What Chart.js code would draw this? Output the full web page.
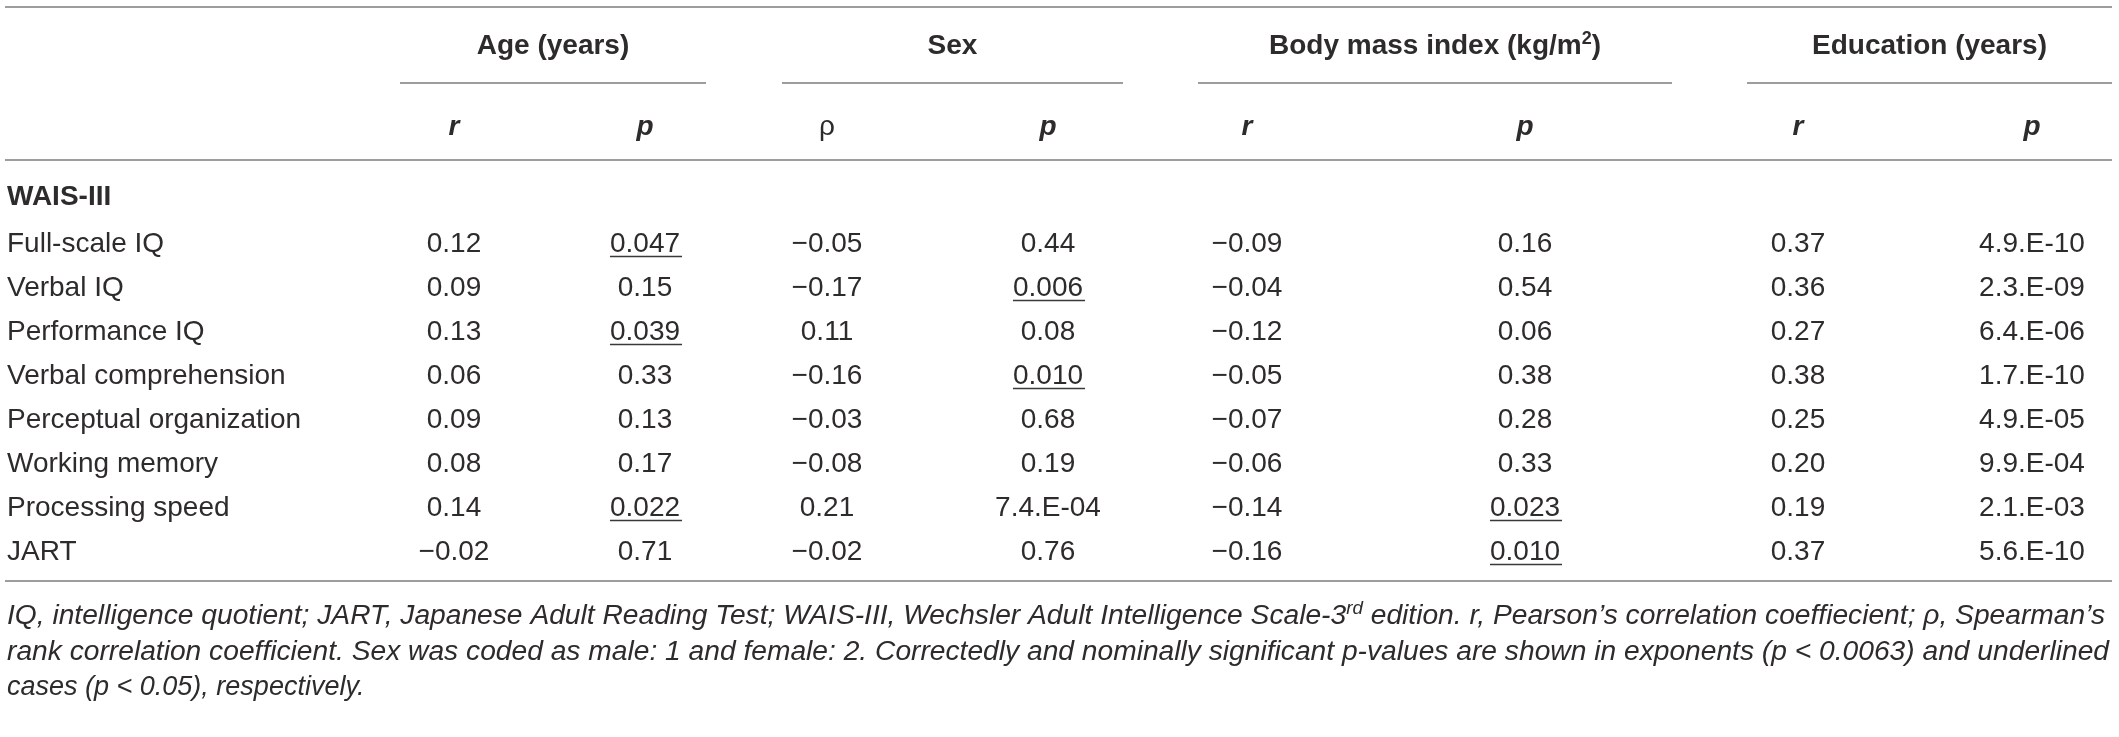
<!DOCTYPE html>
<html>
<head>
<meta charset="utf-8">
<script src="https://cdn.jsdelivr.net/npm/chart.js@4.4.1/dist/chart.umd.min.js"></script>
<style>
html,body{margin:0;padding:0;background:#ffffff;overflow:hidden;}
#wrap{width:2119px;height:737px;position:relative;}
</style>
</head>
<body>
<div id="wrap"><canvas id="c"></canvas></div>
<script>
// ---------------- DATA ----------------
const sectionLabel = 'WAIS-III';
const rowLabels = ['Full-scale IQ','Verbal IQ','Performance IQ','Verbal comprehension',
  'Perceptual organization','Working memory','Processing speed','JART'];
const groupLabels = [
  [{t:'Age (years)'}],
  [{t:'Sex'}],
  [{t:'Body mass index (kg/m'},{t:'2',sup:true},{t:')'}],
  [{t:'Education (years)'}]
];
const subHeaders = ['r','p','\u03C1','p','r','p','r','p'];

const ageR   = [0.12, 0.09, 0.13, 0.06, 0.09, 0.08, 0.14, -0.02];
const ageP   = ['0.047','0.15','0.039','0.33','0.13','0.17','0.022','0.71'];
const ageSig = [1,0,1,0,0,0,1,0];
const sexRho = [-0.05, -0.17, 0.11, -0.16, -0.03, -0.08, 0.21, -0.02];
const sexP   = ['0.44','0.006','0.08','0.010','0.68','0.19','7.4.E-04','0.76'];
const sexSig = [0,1,0,1,0,0,0,0];
const bmiR   = [-0.09, -0.04, -0.12, -0.05, -0.07, -0.06, -0.14, -0.16];
const bmiP   = ['0.16','0.54','0.06','0.38','0.28','0.33','0.023','0.010'];
const bmiSig = [0,0,0,0,0,0,1,1];
const eduR   = [0.37, 0.36, 0.27, 0.38, 0.25, 0.20, 0.19, 0.37];
const eduP   = ['4.9.E-10','2.3.E-09','6.4.E-06','1.7.E-10','4.9.E-05','9.9.E-04','2.1.E-03','5.6.E-10'];
const noSig  = [0,0,0,0,0,0,0,0];

const footnoteLines = [
  [{t:'IQ, intelligence quotient; JART, Japanese Adult Reading Test; WAIS-III, Wechsler Adult Intelligence Scale-3'},{t:'rd',sup:true},{t:' edition. r, Pearson\u2019s correlation coeffiecient; \u03C1, Spearman\u2019s'}],
  [{t:'rank correlation coefficient. Sex was coded as male: 1 and female: 2. Correctedly and nominally significant p-values are shown in exponents (p < 0.0063) and underlined'}],
  [{t:'cases (p < 0.05), respectively.'}]
];

// ---------------- LAYOUT / STYLE ----------------
const W = 2119, H = 737;
const layout = {
  colX: [454, 645, 827, 1048, 1247, 1525, 1798, 2032],
  groupSpans: [[400,706],[782,1123],[1198,1672],[1747,2112]],
  labelX: 7,
  ruleX: [5, 2112],
  topRuleY: 7, groupBase: 54, groupLineY: 83, subBase: 135, headRuleY: 160,
  bottomGap: 9,
  footBase: [624, 660, 695], footRight: [2105, 2109, null],
  baseShift: 10, sectionShift: -3
};
const FONT = '"Liberation Sans", Arial, Helvetica, sans-serif';
const TXT = '#2e2b2c';
const RULE = '#7c7c7c';

function fmtR(v){ return (v < 0 ? '\u2212' : '') + Math.abs(v).toFixed(2); }

const columns = [
  {texts: ageR.map(fmtR), sig: noSig},
  {texts: ageP, sig: ageSig},
  {texts: sexRho.map(fmtR), sig: noSig},
  {texts: sexP, sig: sexSig},
  {texts: bmiR.map(fmtR), sig: noSig},
  {texts: bmiP, sig: bmiSig},
  {texts: eduR.map(fmtR), sig: noSig},
  {texts: eduP, sig: noSig}
];

function richWidth(ctx, segs, size, style){
  let w = 0;
  for (const s of segs){
    ctx.font = style + ' ' + (s.sup ? Math.round(size*0.65) : size) + 'px ' + FONT;
    w += ctx.measureText(s.t).width;
  }
  return w;
}
function drawRich(ctx, segs, x, y, size, style, align, targetW){
  const w = richWidth(ctx, segs, size, style);
  let sx = 1;
  if (targetW) sx = targetW / w;
  let start = x;
  if (align === 'center') start = x - w*sx/2;
  ctx.save();
  ctx.translate(start, y);
  ctx.scale(sx, 1);
  let cx = 0;
  ctx.textAlign = 'left';
  ctx.textBaseline = 'alphabetic';
  for (const s of segs){
    const fs = s.sup ? Math.round(size*0.65) : size;
    ctx.font = style + ' ' + fs + 'px ' + FONT;
    ctx.fillText(s.t, cx, s.sup ? -size*0.36 : 0);
    cx += ctx.measureText(s.t).width;
  }
  ctx.restore();
}

const tablePlugin = {
  id: 'tablePlugin',
  afterDatasetsDraw(chart){
    const ctx = chart.ctx;
    const xs = chart.scales.x, ys = chart.scales.y;
    const px = v => xs.getPixelForValue(v);
    ctx.save();
    ctx.fillStyle = TXT;

    // rules
    ctx.strokeStyle = RULE;
    ctx.lineWidth = 1.6;
    const hline = (x0,x1,y) => { ctx.beginPath(); ctx.moveTo(px(x0), y); ctx.lineTo(px(x1), y); ctx.stroke(); };
    const bottomY = chart.chartArea.bottom + layout.bottomGap;
    hline(layout.ruleX[0], layout.ruleX[1], layout.topRuleY);
    hline(layout.ruleX[0], layout.ruleX[1], layout.headRuleY);
    hline(layout.ruleX[0], layout.ruleX[1], bottomY);
    layout.groupSpans.forEach(s => hline(s[0], s[1], layout.groupLineY));

    // group headers
    groupLabels.forEach((segs, g) => {
      const cx = px((layout.groupSpans[g][0] + layout.groupSpans[g][1]) / 2);
      drawRich(ctx, segs, cx, layout.groupBase, 28, 'bold', 'center');
    });

    // sub headers
    ctx.textAlign = 'center'; ctx.textBaseline = 'alphabetic';
    subHeaders.forEach((s, k) => {
      ctx.font = (s === '\u03C1' ? 'normal ' : 'italic bold ') + '28px ' + FONT;
      ctx.fillText(s, px(layout.colX[k]), layout.subBase);
    });

    // row labels
    ctx.textAlign = 'left';
    ys.getLabels().forEach((lab, i) => {
      ctx.font = (i === 0 ? 'bold ' : 'normal ') + '28px ' + FONT;
      const shift = i === 0 ? layout.sectionShift : 0;
      ctx.fillText(lab, px(layout.labelX), ys.getPixelForValue(i) + layout.baseShift + shift);
    });

    // cells
    ctx.font = 'normal 28px ' + FONT;
    ctx.textAlign = 'center';
    chart.data.datasets.forEach((ds, k) => {
      const meta = chart.getDatasetMeta(k);
      meta.data.forEach((el, i) => {
        const t = ds.texts[i];
        const by = el.y + layout.baseShift;
        ctx.fillStyle = TXT;
        ctx.fillText(t, el.x, by);
        if (ds.sig[i]) {
          const w = ctx.measureText(t).width;
          ctx.strokeStyle = '#3a3a3a';
          ctx.lineWidth = 1.5;
          ctx.beginPath();
          ctx.moveTo(el.x - w/2, by + 4.5);
          ctx.lineTo(el.x + w/2 + 2, by + 4.5);
          ctx.stroke();
        }
      });
    });

    // footnote
    ctx.fillStyle = TXT;
    footnoteLines.forEach((segs, j) => {
      const x0 = px(layout.labelX);
      const tw = layout.footRight[j] ? layout.footRight[j] - x0 : null;
      drawRich(ctx, segs, x0, layout.footBase[j], 27, 'italic', 'left', tw);
    });
    ctx.restore();
  }
};

const nRows = rowLabels.length + 1;
const firstCenter = 198, rowStep = 44;
const padTop = firstCenter - rowStep/2;
const padBottom = H - (padTop + nRows*rowStep);

new Chart(document.getElementById('c'), {
  type: 'scatter',
  data: {
    datasets: columns.map((col, k) => ({
      label: subHeaders[k],
      data: col.texts.map((t, i) => ({x: layout.colX[k], y: rowLabels[i]})),
      texts: col.texts,
      sig: col.sig,
      pointRadius: 0,
      pointHoverRadius: 0,
      showLine: false
    }))
  },
  options: {
    responsive: true,
    maintainAspectRatio: false,
    animation: false,
    events: [],
    layout: {padding: {top: padTop, bottom: padBottom, left: 0, right: 0}},
    scales: {
      x: {type: 'linear', min: 0, max: W, display: false},
      y: {type: 'category', labels: [sectionLabel].concat(rowLabels), offset: true, display: false}
    },
    plugins: {legend: {display: false}, tooltip: {enabled: false}, title: {display: false}}
  },
  plugins: [tablePlugin]
});
</script>
</body>
</html>
